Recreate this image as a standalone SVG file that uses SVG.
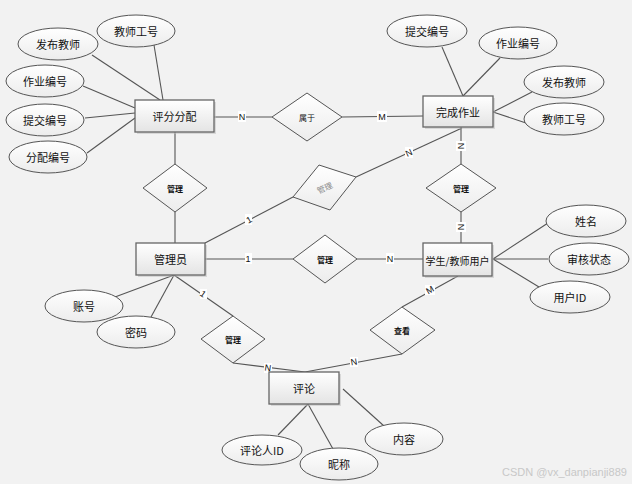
<svg xmlns="http://www.w3.org/2000/svg" width="632" height="484" viewBox="0 0 632 484">
<defs>
<linearGradient id="g" x1="0" y1="0" x2="0" y2="1"><stop offset="0" stop-color="#ffffff"/><stop offset="1" stop-color="#e4e4e4"/></linearGradient>
<linearGradient id="ge" x1="0" y1="0" x2="0" y2="1"><stop offset="0" stop-color="#ffffff"/><stop offset="1" stop-color="#ececec"/></linearGradient>
</defs>
<style>
.ent{fill:url(#g);stroke:#666;stroke-width:1.3}
.att{fill:url(#ge);stroke:#555;stroke-width:1}
.rel{fill:url(#ge);stroke:#555;stroke-width:1}
.sh{fill:#bbb;opacity:0.5}
.t{font-family:"Noto Sans CJK SC","Liberation Sans",sans-serif;font-size:11px;fill:#111;text-anchor:middle;dominant-baseline:central}
.rt{font-family:"Noto Sans CJK SC","Liberation Sans",sans-serif;font-size:8px;font-weight:bold;fill:#111;text-anchor:middle;dominant-baseline:central}
.ln{stroke:#555;stroke-width:1.1;fill:none}
.lb{fill:#fff}
.lt{font-family:"Liberation Sans",sans-serif;font-size:9px;fill:#111;text-anchor:middle;dominant-baseline:central}
.wm{font-family:"Liberation Sans",sans-serif;font-size:11px;fill:#c8c8c8}
</style>
<rect width="632" height="484" fill="#f2f2f2"/>
<g id="connectors">
<line class="ln" x1="214" y1="117" x2="272" y2="117"/>
<line class="ln" x1="342" y1="117" x2="423" y2="116"/>
<line class="ln" x1="175" y1="132" x2="175" y2="164"/>
<line class="ln" x1="175" y1="212" x2="175" y2="243"/>
<line class="ln" x1="205" y1="243" x2="293" y2="197"/>
<line class="ln" x1="356" y1="177" x2="462" y2="128"/>
<line class="ln" x1="461" y1="127" x2="461" y2="164"/>
<line class="ln" x1="461" y1="212" x2="461" y2="243"/>
<line class="ln" x1="205" y1="259" x2="293" y2="259"/>
<line class="ln" x1="357" y1="259" x2="423" y2="259"/>
<line class="ln" x1="458" y1="276" x2="402" y2="307"/>
<line class="ln" x1="402" y1="354" x2="305" y2="372"/>
<line class="ln" x1="174" y1="275" x2="233" y2="316"/>
<polyline class="ln" points="233,363 305,372"/>
<line class="ln" x1="174" y1="275" x2="115" y2="297"/>
<line class="ln" x1="174" y1="275" x2="151" y2="317"/>
<line class="ln" x1="308" y1="404" x2="278" y2="435"/>
<line class="ln" x1="308" y1="404" x2="333" y2="449"/>
<line class="ln" x1="343" y1="389" x2="384" y2="426"/>
<line class="ln" x1="493" y1="259" x2="548" y2="223"/>
<line class="ln" x1="493" y1="259" x2="548" y2="259"/>
<line class="ln" x1="493" y1="259" x2="539" y2="287"/>
<line class="ln" x1="463" y1="96" x2="442" y2="47"/>
<line class="ln" x1="463" y1="96" x2="500" y2="58"/>
<line class="ln" x1="493" y1="112" x2="532" y2="92"/>
<line class="ln" x1="493" y1="112" x2="526" y2="123"/>
<line class="ln" x1="163" y1="100" x2="154" y2="45"/>
<line class="ln" x1="160" y1="100" x2="92" y2="55"/>
<line class="ln" x1="135" y1="108" x2="83" y2="86"/>
<line class="ln" x1="135" y1="113" x2="85" y2="118"/>
<line class="ln" x1="135" y1="118" x2="87" y2="153"/>
<g>
<rect class="lb" x="238" y="111" width="8" height="11"/><text class="lt" x="242" y="117">N</text>
<rect class="lb" x="377" y="111" width="10" height="11"/><text class="lt" x="382" y="117">M</text>
<rect class="lb" x="245" y="214" width="7" height="11"/><text class="lt" x="249" y="220" transform="rotate(-28 249 220)">1</text>
<rect class="lb" x="405" y="147" width="8" height="11"/><text class="lt" x="409" y="153" transform="rotate(-25 409 153)">N</text>
<rect class="lb" x="456" y="141" width="10" height="10"/><text class="lt" x="461" y="146" transform="rotate(90 461 146)">N</text>
<rect class="lb" x="456" y="222" width="10" height="10"/><text class="lt" x="461" y="227" transform="rotate(90 461 227)">N</text>
<rect class="lb" x="245" y="253" width="7" height="11"/><text class="lt" x="248" y="259">1</text>
<rect class="lb" x="386" y="253" width="8" height="11"/><text class="lt" x="390" y="259">N</text>
<rect class="lb" x="425" y="285" width="10" height="10"/><text class="lt" x="430" y="290" transform="rotate(-30 430 290)">M</text>
<rect class="lb" x="350" y="357" width="8" height="10"/><text class="lt" x="354" y="362" transform="rotate(-10 354 362)">N</text>
<rect class="lb" x="200" y="289" width="7" height="10"/><text class="lt" x="203" y="294" transform="rotate(35 203 294)">1</text>
<rect class="lb" x="264" y="363" width="8" height="10"/><text class="lt" x="268" y="368" transform="rotate(8 268 368)">N</text>
</g>
</g>
<g id="e-pingfen"><rect class="sh" x="137" y="102" width="79" height="32"/><rect class="ent" x="135" y="100" width="79" height="32"/><text class="t" x="174.5" y="116">评分分配</text></g>
<g id="e-wancheng"><rect class="sh" x="425" y="98" width="70" height="31"/><rect class="ent" x="423" y="96" width="70" height="31"/><text class="t" x="458" y="112">完成作业</text></g>
<g id="e-admin"><rect class="sh" x="138" y="245" width="69" height="32"/><rect class="ent" x="136" y="243" width="69" height="32"/><text class="t" x="170.5" y="259">管理员</text></g>
<g id="e-user"><rect class="sh" x="425" y="245" width="69" height="33"/><rect class="ent" x="423" y="243" width="69" height="33"/><text class="t" x="457.5" y="260" style="font-size:10px">学生/教师用户</text></g>
<g id="e-comment"><rect class="sh" x="271" y="374" width="70" height="32"/><rect class="ent" x="269" y="372" width="70" height="32"/><text class="t" x="304" y="388">评论</text></g>
<g id="r-shuyu"><polygon class="rel" points="307,93 342,117 307,141 272,117"/><text class="rt" x="307" y="117" style="font-weight:normal">属于</text></g>
<g id="r-guanli-rot"><polygon class="rel" points="319,165 356,177 330,210 293,197"/><text class="rt" x="324.5" y="187.5" style="fill:#888;font-weight:normal" transform="rotate(-25 324.5 187.5)">管理</text></g>
<g id="r-guanli-1"><polygon class="rel" points="175,164 207,188 175,212 143,188"/><text class="rt" x="175" y="188">管理</text></g>
<g id="r-guanli-2"><polygon class="rel" points="325,235 357,259 325,283 293,259"/><text class="rt" x="325" y="259">管理</text></g>
<g id="r-guanli-3"><polygon class="rel" points="461,164 496,188 461,212 426,188"/><text class="rt" x="461" y="188">管理</text></g>
<g id="r-guanli-4"><polygon class="rel" points="233,316 265,339 233,363 201,339"/><text class="rt" x="233" y="339">管理</text></g>
<g id="r-chakan"><polygon class="rel" points="402,307 435,330 402,354 370,330"/><text class="rt" x="402" y="330">查看</text></g>
<g id="a-fabu1"><ellipse class="att" cx="58" cy="44" rx="40" ry="16"/><text class="t" x="58" y="44">发布教师</text></g>
<g id="a-gonghao1"><ellipse class="att" cx="136" cy="31" rx="39" ry="16"/><text class="t" x="136" y="31">教师工号</text></g>
<g id="a-zuoye1"><ellipse class="att" cx="45" cy="81" rx="39" ry="16"/><text class="t" x="45" y="81">作业编号</text></g>
<g id="a-tijiao1"><ellipse class="att" cx="45" cy="120" rx="39" ry="16"/><text class="t" x="45" y="120">提交编号</text></g>
<g id="a-fenpei"><ellipse class="att" cx="48" cy="157" rx="39" ry="16"/><text class="t" x="48" y="157">分配编号</text></g>
<g id="a-tijiao2"><ellipse class="att" cx="427" cy="31" rx="40" ry="16"/><text class="t" x="427" y="31">提交编号</text></g>
<g id="a-zuoye2"><ellipse class="att" cx="518" cy="43" rx="39" ry="16"/><text class="t" x="518" y="43">作业编号</text></g>
<g id="a-fabu2"><ellipse class="att" cx="564" cy="82" rx="40" ry="16"/><text class="t" x="564" y="82">发布教师</text></g>
<g id="a-gonghao2"><ellipse class="att" cx="564" cy="119" rx="40" ry="16"/><text class="t" x="564" y="119">教师工号</text></g>
<g id="a-name"><ellipse class="att" cx="586" cy="221" rx="40" ry="16"/><text class="t" x="586" y="221">姓名</text></g>
<g id="a-status"><ellipse class="att" cx="589" cy="259" rx="40" ry="16"/><text class="t" x="589" y="259">审核状态</text></g>
<g id="a-uid"><ellipse class="att" cx="570" cy="297" rx="40" ry="16"/><text class="t" x="570" y="297">用户ID</text></g>
<g id="a-account"><ellipse class="att" cx="84" cy="306" rx="39" ry="16"/><text class="t" x="84" y="306">账号</text></g>
<g id="a-pwd"><ellipse class="att" cx="136" cy="332" rx="39" ry="16"/><text class="t" x="136" y="332">密码</text></g>
<g id="a-cid"><ellipse class="att" cx="262" cy="450" rx="40" ry="15"/><text class="t" x="262" y="450">评论人ID</text></g>
<g id="a-nick"><ellipse class="att" cx="339" cy="464" rx="39" ry="16"/><text class="t" x="339" y="464">昵称</text></g>
<g id="a-content"><ellipse class="att" cx="404" cy="439" rx="39" ry="16"/><text class="t" x="404" y="439">内容</text></g>
<text class="wm" x="502" y="476">CSDN @vx_danpianji889</text>
</svg>
